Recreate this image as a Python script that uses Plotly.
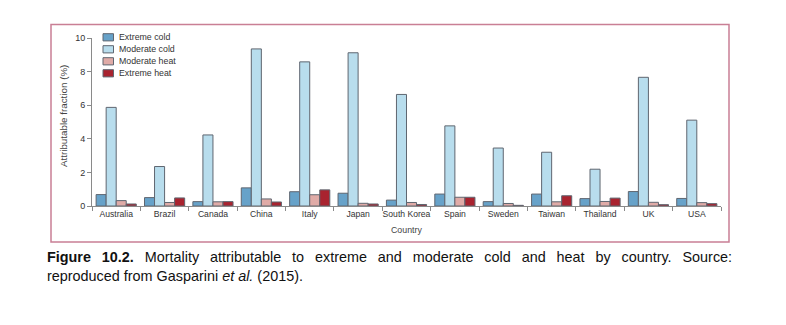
import plotly.graph_objects as go

countries = ["Australia", "Brazil", "Canada", "China", "Italy", "Japan", "South Korea",
             "Spain", "Sweden", "Taiwan", "Thailand", "UK", "USA"]
series_names = ["Extreme cold", "Moderate cold", "Moderate heat", "Extreme heat"]
extreme_cold = [0.68, 0.50, 0.26, 1.08, 0.85, 0.76, 0.35, 0.71, 0.26, 0.71, 0.44, 0.86, 0.45]
moderate_cold = [5.87, 2.35, 4.23, 9.35, 8.58, 9.12, 6.64, 4.77, 3.45, 3.20, 2.19, 7.66, 5.11]
moderate_heat = [0.32, 0.21, 0.25, 0.42, 0.67, 0.16, 0.21, 0.52, 0.15, 0.25, 0.27, 0.22, 0.20]
extreme_heat = [0.12, 0.48, 0.26, 0.24, 0.96, 0.12, 0.09, 0.52, 0.04, 0.61, 0.47, 0.08, 0.14]
y_ticks = [0, 2, 4, 6, 8, 10]

colors = ["#67a2c9", "#b8dded", "#e0aba7", "#a9232f"]
values = [extreme_cold, moderate_cold, moderate_heat, extreme_heat]

FONT = "Liberation Sans, Arial, sans-serif"

fig = go.Figure()
for name, vals, col in zip(series_names, values, colors):
    fig.add_trace(go.Bar(
        x=countries, y=vals, name=name, marker=dict(color=col, line=dict(color="#5f6670", width=1)),
        showlegend=False,
    ))

W, H = 786, 325
L, R, T, B = 92, 65, 38, 119
pw, ph = W - L - R, H - T - B

def px(x):
    return (x - L) / pw

def py(y):
    return (H - B - y) / ph

shapes = []
annotations = []
# outer border
shapes.append(dict(type="rect", xref="paper", yref="paper",
                   x0=px(51), x1=px(729), y0=py(242), y1=py(24.5),
                   line=dict(color="#c97f95", width=1.5)))
# manual compact legend
for i, (name, col) in enumerate(zip(series_names, colors)):
    cy = 37.3 + 12 * i
    shapes.append(dict(type="rect", xref="paper", yref="paper",
                       x0=px(103), x1=px(113.5), y0=py(cy + 3.6), y1=py(cy - 3.6),
                       fillcolor=col, line=dict(color="#5f6670", width=1)))
    annotations.append(dict(text=name, xref="paper", yref="paper", x=px(116.5), y=py(cy),
                            xanchor="left", yanchor="middle", showarrow=False,
                            font=dict(family=FONT, size=8.8, color="#333")))

annotations.append(dict(text="Attributable fraction (%)", xref="paper", yref="paper",
                        x=px(63), y=py(116), textangle=-90, showarrow=False,
                        xanchor="center", yanchor="middle",
                        font=dict(family=FONT, size=9.8, color="#444")))
annotations.append(dict(text="Country", xref="paper", yref="paper",
                        x=0.5, y=py(230), showarrow=False, xanchor="center", yanchor="middle",
                        font=dict(family=FONT, size=8.8, color="#444")))

words1 = ["Mortality", "attributable", "to", "extreme", "and", "moderate", "cold",
          "and", "heat", "by", "country.", "Source:"]
gap = " &nbsp;&#8201;"
line1 = "<b>Figure" + gap + "10.2.</b>" + gap + gap.join(words1)
annotations.append(dict(
    text=line1 + "<br>reproduced from Gasparini <i>et al.</i> (2015).",
    xref="paper", yref="paper", x=px(45), y=py(247), xanchor="left", yanchor="top",
    align="left", showarrow=False,
    font=dict(family="Liberation Sans, Arial, sans-serif", size=14.4, color="#111")))

fig.update_layout(
    width=W, height=H, margin=dict(l=L, r=R, t=T, b=B, pad=0),
    paper_bgcolor="white", plot_bgcolor="white",
    barmode="group", bargap=0.17, bargroupgap=0,
    shapes=shapes, annotations=annotations,
    font=dict(family=FONT, size=9, color="#333"),
    xaxis=dict(type="category", showline=True, linecolor="#8a8a8a", linewidth=1,
               ticks="outside", tickson="boundaries", ticklen=4, tickcolor="#8a8a8a",
               tickangle=0,
               tickfont=dict(family=FONT, size=8.6, color="#333"), showgrid=False,
               zeroline=False),
    yaxis=dict(range=[0, 10], tickvals=y_ticks, showline=True, linecolor="#8a8a8a", linewidth=1,
               ticks="outside", ticklen=4, tickcolor="#8a8a8a", showgrid=False, zeroline=False,
               tickfont=dict(family=FONT, size=9, color="#333")),
)

fig.write_html("out.html")
